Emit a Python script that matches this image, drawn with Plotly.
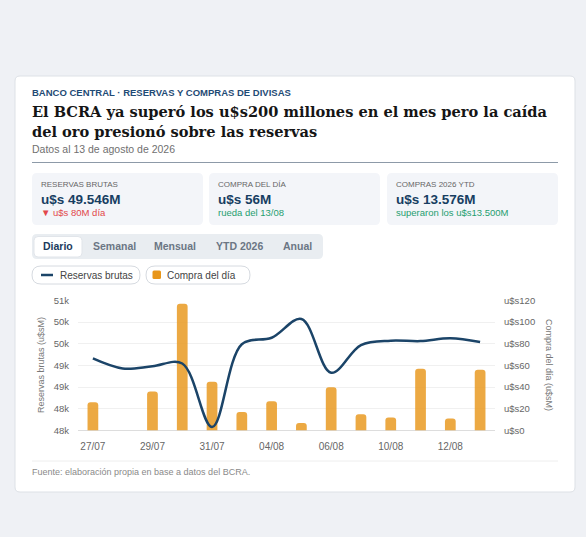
import plotly.graph_objects as go

# datos diarios (u$s millones)
fechas = ["27/07", "28/07", "29/07", "30/07", "31/07", "03/08", "04/08",
          "05/08", "06/08", "07/08", "10/08", "11/08", "12/08", "13/08"]
reservas = [49430, 49175, 49230, 49300, 47690, 49790, 49955,
            50430, 49065, 49770, 49880, 49870, 49940, 49846]
compras = [26, None, 36, 117, 45, 17, 27, 7, 40, 15, 12, 57, 11, 56]

kpi_labels = ["RESERVAS BRUTAS", "COMPRA DEL DÍA", "COMPRAS 2026 YTD"]
kpi_values = ["u$s 49.546M", "u$s 56M", "u$s 13.576M"]
kpi_notes = ["▼ u$s 80M día", "rueda del 13/08", "superaron los u$s13.500M"]
tabs = ["Diario", "Semanal", "Mensual", "YTD 2026", "Anual"]

W, H = 586, 537
NAVY = "#1b4468"
ORANGE = "#e8961a"
FONT = "Liberation Sans, Arial, sans-serif"
SERIF = "DejaVu Serif, serif"


def X(p):
    return p / W


def Y(p):
    return 1 - p / H


def rrect(x0, y0, x1, y1, r):
    # rectangulo redondeado en coordenadas paper
    pts = [
        f"M {X(x0 + r)},{Y(y0)}", f"L {X(x1 - r)},{Y(y0)}",
        f"Q {X(x1)},{Y(y0)} {X(x1)},{Y(y0 + r)}", f"L {X(x1)},{Y(y1 - r)}",
        f"Q {X(x1)},{Y(y1)} {X(x1 - r)},{Y(y1)}", f"L {X(x0 + r)},{Y(y1)}",
        f"Q {X(x0)},{Y(y1)} {X(x0)},{Y(y1 - r)}", f"L {X(x0)},{Y(y0 + r)}",
        f"Q {X(x0)},{Y(y0)} {X(x0 + r)},{Y(y0)}", "Z",
    ]
    return " ".join(pts)


shapes = []
ann = []


def box(x0, y0, x1, y1, r, fill, line=None, lw=1):
    shapes.append(dict(type="path", xref="paper", yref="paper", path=rrect(x0, y0, x1, y1, r),
                       fillcolor=fill, line=dict(color=line or fill, width=lw if line else 0),
                       layer="below"))


def text(x, y, t, size, color, anchor="left", family=FONT, angle=0):
    ann.append(dict(x=X(x), y=Y(y), xref="paper", yref="paper", text=t, showarrow=False,
                    xanchor=anchor, yanchor="middle", textangle=angle, borderpad=0,
                    font=dict(size=size, color=color, family=family)))


# tarjeta
box(15, 76, 575, 492, 5, "white", "#dde1e6")

text(31, 93, "<b>BANCO CENTRAL · RESERVAS Y COMPRAS DE DIVISAS</b>", 9.5, "#1f4b75")
text(31, 111, "<b>El BCRA ya superó los u$s200 millones en el mes pero la caída</b>", 14.6, "#151515",
     family=SERIF)
text(31, 132, "<b>del oro presionó sobre las reservas</b>", 14.6, "#151515", family=SERIF)
text(31, 149, "Datos al 13 de agosto de 2026", 10.5, "#707070")
shapes.append(dict(type="line", xref="paper", yref="paper", x0=X(32), x1=X(558), y0=Y(162.5), y1=Y(162.5),
                   line=dict(color="#8d9aa8", width=1)))

# kpis
kpi_x = [(32, 203), (209, 380), (387, 558)]
note_colors = ["#e2474b", "#1f9e70", "#1f9e70"]
for (x0, x1), lab, val, note, nc in zip(kpi_x, kpi_labels, kpi_values, kpi_notes, note_colors):
    box(x0, 173, x1, 225, 5, "#f3f5f9")
    text(x0 + 8, 184, lab, 8, "#666666")
    text(x0 + 8, 199, f"<b>{val}</b>", 13.5, "#173e62")
    text(x0 + 8, 212, note, 9.5, nc)

# pestanas
box(32, 234, 323, 259, 5, "#e9edf1")
box(34, 236.5, 82, 257, 4, "white", "#e1e5ea")
tab_x = [58, 114, 175, 239, 297]
for tx, t in zip(tab_x, tabs):
    text(tx, 246.5, f"<b>{t}</b>", 10.5, "#1b3a5c" if t == "Diario" else "#6b7684", anchor="center")

# leyenda
box(32, 266, 140, 284, 9, "white", "#d6dae0")
box(146, 266, 250, 284, 9, "white", "#d6dae0")
shapes.append(dict(type="line", xref="paper", yref="paper", x0=X(41), x1=X(53), y0=Y(275), y1=Y(275),
                   line=dict(color=NAVY, width=2.5)))
box(152.5, 270.5, 161, 279, 1.5, ORANGE)
text(59, 275, "Reservas brutas", 10, "#444444")
text(166, 275, "Compra del día", 10, "#444444")

# fuente
shapes.append(dict(type="line", xref="paper", yref="paper", x0=X(32), x1=X(558), y0=Y(461), y1=Y(461),
                   line=dict(color="#eeeeee", width=1)))
text(31, 472, "Fuente: elaboración propia en base a datos del BCRA.", 9, "#8a8a8a")

# titulos de ejes
text(41, 365, "Reservas brutas (u$sM)", 9, "#777777", anchor="center", angle=-90)
text(549, 365, "Compra del día (u$sM)", 9, "#777777", anchor="center", angle=90)

fig = go.Figure()
fig.add_trace(go.Bar(x=fechas, y=compras, name="Compra del día", yaxis="y",
                     marker=dict(color="rgba(232,150,26,0.82)", line=dict(width=0)), width=0.36))
fig.add_trace(go.Scatter(x=fechas, y=reservas, name="Reservas brutas", yaxis="y2", mode="lines",
                         line=dict(color=NAVY, width=2.5, shape="spline", smoothing=1)))

dom_y = [Y(430.5), Y(300.5)]
fig.update_layout(
    width=W, height=H, margin=dict(l=0, r=0, t=0, b=0, autoexpand=False),
    paper_bgcolor="#eff1f5", plot_bgcolor="rgba(0,0,0,0)",
    showlegend=False, barcornerradius=3,
    font=dict(family=FONT, size=10, color="#666666"),
    xaxis=dict(domain=[X(78), X(495)], type="category", tickmode="array", tickvals=fechas[::2],
               showgrid=False, zeroline=False, showline=False, ticks="", automargin=False,
               tickfont=dict(size=10, color="#666666"), ticklabelstandoff=8),
    yaxis=dict(domain=dom_y, side="right", range=[0, 120], dtick=20, tickprefix="u$s",
               showgrid=True, gridcolor="#f0f0f0", zeroline=True, zerolinecolor="#dddddd",
               zerolinewidth=1, tickfont=dict(size=9.5, color="#666666"), ticklabelstandoff=8,
               automargin=False),
    yaxis2=dict(domain=dom_y, overlaying="y", side="left", range=[47600, 50900], tick0=47600,
                dtick=550, tickformat=".2s", showgrid=False, zeroline=False, automargin=False,
                tickfont=dict(size=9.5, color="#666666"), ticklabelstandoff=8),
    shapes=shapes, annotations=ann,
)

fig.write_html("out.html", config={"displayModeBar": False},
               post_script="document.body.style.margin='0';document.body.style.background='#eff1f5';")
